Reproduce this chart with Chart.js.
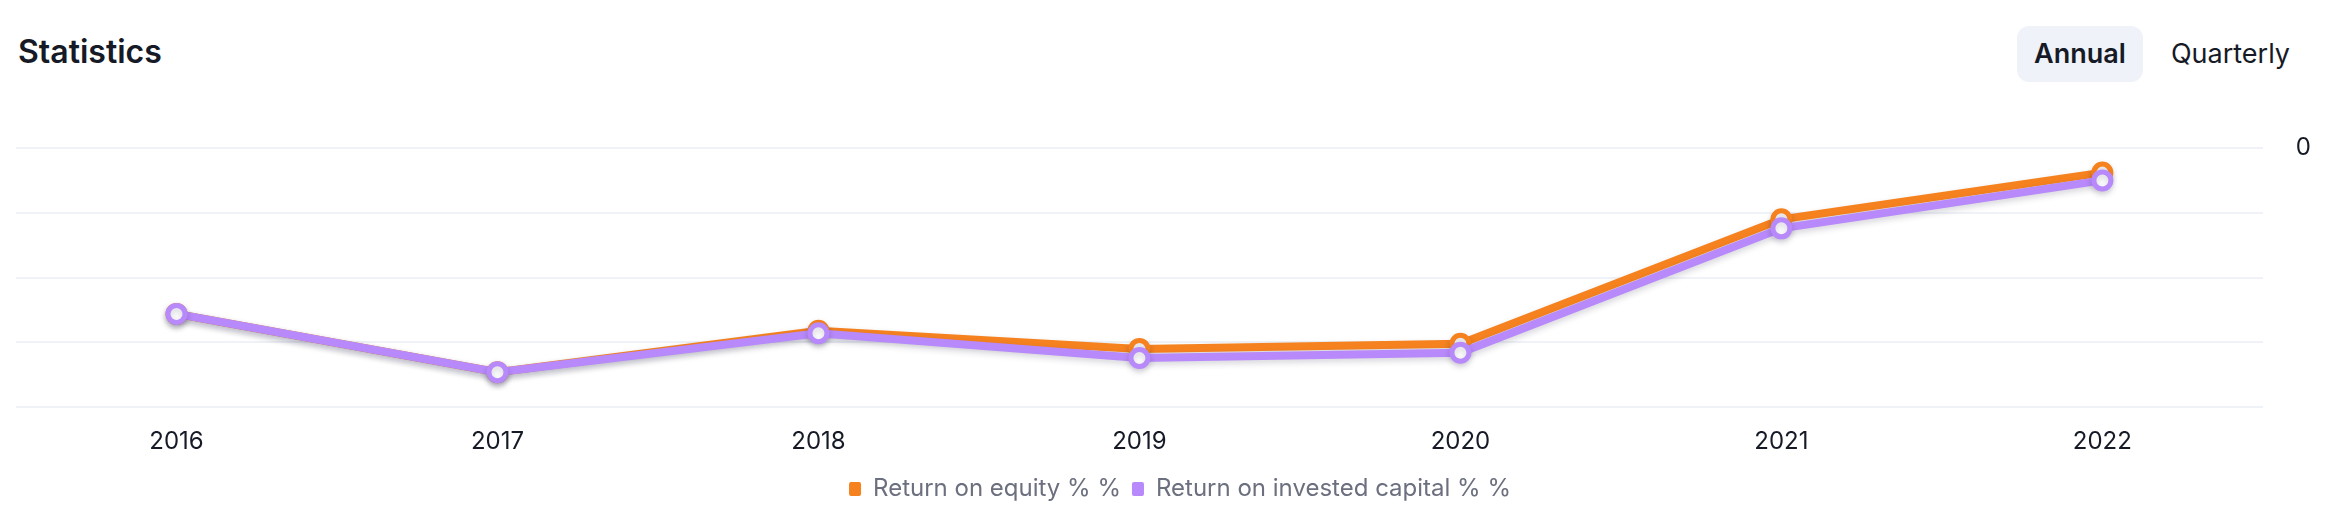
<!DOCTYPE html>
<html>
<head>
<meta charset="utf-8"/>
<title>Statistics</title>
<script src="https://cdn.jsdelivr.net/npm/chart.js"></script>
<style>
	html,body{margin:0;padding:0;background:#fff;}
	body{width:2344px;height:522px;position:relative;overflow:hidden;font-family:Inter,"Noto Sans",sans-serif;}
	#title{position:absolute;left:18px;top:36px;font-size:32px;line-height:1;font-weight:600;color:#161a26;}
	#annual{position:absolute;left:2017px;top:26px;width:126px;height:56px;border-radius:12px;background:#eff2f9;
		font-size:27px;font-weight:600;color:#161a26;line-height:56px;text-align:center;}
	#quarterly{position:absolute;left:2162px;top:26px;width:137px;height:56px;font-size:27px;font-weight:400;color:#161a26;line-height:56px;text-align:center;}
	#chart{position:absolute;left:0;top:0;}
</style>
</head>
<body>
<div id="title">Statistics</div>
<div id="annual">Annual</div>
<div id="quarterly">Quarterly</div>
<canvas id="chart" width="2344" height="522"></canvas>
<script>
// values
const years = ['2016','2017','2018','2019','2020','2021','2022'];
const roe = [-12.8, -17.3, -14.1, -15.5, -15.1, -5.5, -1.9];
const roic = [-12.8, -17.3, -14.3, -16.2, -15.8, -6.2, -2.5];
const yMin = -20, yMax = 0, yStep = 5;

const orange = 'rgb(245,130,31)';
const purple = 'rgb(184,137,250)';

// soft shadow under the lines
const shadow = {
	id:'shadow',
	beforeDatasetsDraw(chart){
		const c = chart.ctx;
		c.save();
		c.shadowColor = 'rgba(30,30,60,0.18)';
		c.shadowBlur = 6;
		c.shadowOffsetY = 3;
	},
	afterDatasetsDraw(chart){ chart.ctx.restore(); }
};

new Chart(document.getElementById('chart'), {
	type:'line',
	data:{
		labels: years,
		datasets:[
			{label:'Return on invested capital % %', data: roic, borderColor: purple, backgroundColor: purple,
			 borderWidth:8, pointRadius:8.5, pointBorderWidth:5, pointBackgroundColor:'#fff', pointBorderColor: purple, tension:0},
			{label:'Return on equity % %', data: roe, borderColor: orange, backgroundColor: orange,
			 borderWidth:8, pointRadius:8.5, pointBorderWidth:5, pointBackgroundColor:'#fff', pointBorderColor: orange, tension:0}
		]
	},
	options:{
		responsive:false,
		animation:false,
		devicePixelRatio:1,
		layout:{padding:{top:148, left:16, right:0, bottom:11}},
		plugins:{
			tooltip:{enabled:false},
			legend:{
				position:'bottom',
				reverse:true,
				labels:{
					font:{family:'Inter', size:24},
					color:'#6b6f7e',
					boxWidth:12, boxHeight:14,
					padding:11,
					generateLabels(chart){
						const items = Chart.defaults.plugins.legend.labels.generateLabels(chart);
						items.forEach(function(it){ it.lineWidth = 0; it.borderRadius = 2; });
						return items;
					}
				}
			}
		},
		scales:{
			x:{
				grid:{display:false, drawTicks:false},
				border:{display:false},
				offset:true,
				ticks:{font:{family:'Inter', size:24}, color:'#161a26', padding:20},
				afterFit:function(s){ s.height -= 10; }
			},
			y:{
				position:'right',
				min:yMin, max:yMax,
				grid:{color:'#eff2f7', lineWidth:2, drawTicks:false},
				border:{display:false},
				ticks:{
					stepSize:yStep,
					font:{family:'Inter', size:24}, color:'#161a26', padding:33,
					callback:function(v){ return v === 0 ? '0' : ''; }
				}
			}
		}
	},
	plugins:[shadow]
});
</script>
</body>
</html>
